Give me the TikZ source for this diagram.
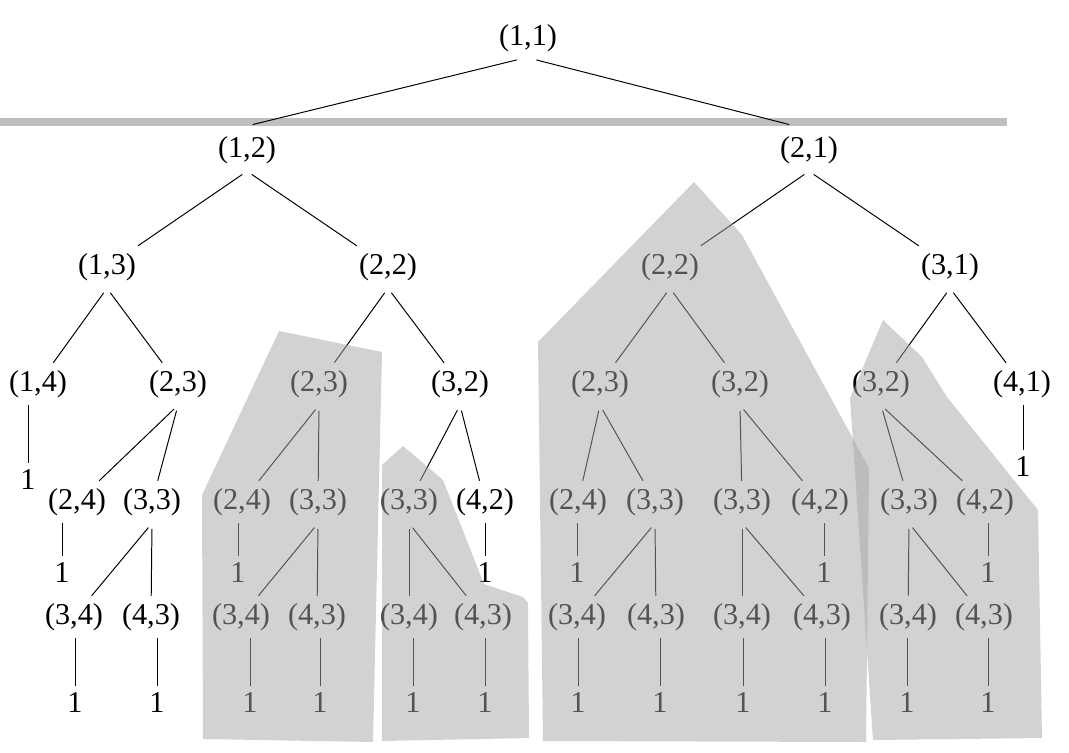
\documentclass[tikz,border=0pt]{standalone}
\usepackage{fontspec}
\setmainfont{Liberation Serif}
\begin{document}
\begin{tikzpicture}[x=0.025cm,y=-0.025cm,line width=0.7pt,
    every node/.style={font=\fontsize{21.5}{24}\selectfont,inner sep=5pt},
    prune/.style={fill=black!35,fill opacity=0.5},
    cutbar/.style={fill=black!25}]
\useasboundingbox (0,0) rectangle (1069,752);

\fill[cutbar] (0,118) rectangle (1007,126);

% the tree
\node (a) at (528,38) {(1,1)};
\node (aL) at (247,150) {(1,2)};
\node (aR) at (809,150) {(2,1)};

\node (aLL) at (107,267) {(1,3)};
\node (aLR) at (388,267) {(2,2)};
\node (aRL) at (670,267) {(2,2)};
\node (aRR) at (950,267) {(3,1)};

\node (aLLL) at (38,384) {(1,4)};
\node (aLLR) at (178,384) {(2,3)};
\node (aLRL) at (319,384) {(2,3)};
\node (aLRR) at (460,384) {(3,2)};
\node (aRLL) at (600,384) {(2,3)};
\node (aRLR) at (740,384) {(3,2)};
\node (aRRL) at (881,384) {(3,2)};
\node (aRRR) at (1022,384) {(4,1)};

\foreach \n/\x/\t in {aLLRL/77/{(2,4)},aLLRR/152/{(3,3)},aLRLL/242/{(2,4)},aLRLR/318/{(3,3)},
    aLRRL/409/{(3,3)},aLRRR/485/{(4,2)},aRLLL/578/{(2,4)},aRLLR/655/{(3,3)},
    aRLRL/742/{(3,3)},aRLRR/820/{(4,2)},aRRLL/909/{(3,3)},aRRLR/985/{(4,2)}}
{
    \node (\n) at (\x,502) {\t};
}
\foreach \n/\x/\t in {aLLRRL/74/{(3,4)},aLLRRR/151/{(4,3)},aLRLRL/241/{(3,4)},aLRLRR/317/{(4,3)},
    aLRRLL/409/{(3,4)},aLRRLR/483/{(4,3)},aRLLRL/577/{(3,4)},aRLLRR/656/{(4,3)},
    aRLRLL/742/{(3,4)},aRLRLR/822/{(4,3)},aRRLLL/908/{(3,4)},aRRLLR/984/{(4,3)}}
{
    \node (\n) at (\x,617) {\t};
}

\draw[shorten <=2pt] ([xshift=-6pt]a.south) -- ([xshift=4pt,yshift=3pt]aL.north);
\draw[shorten <=2pt] ([xshift=4pt]a.south) -- ([xshift=-14pt,yshift=3pt]aR.north);
\foreach \p/\c in {aL/aLL,aL/aLR,aR/aRL,aR/aRR,
    aLL/aLLL,aLL/aLLR,aLR/aLRL,aLR/aLRR,aRL/aRLL,aRL/aRLR,aRR/aRRL,aRR/aRRR,
    aLLR/aLLRL,aLLR/aLLRR,aLRL/aLRLL,aLRL/aLRLR,aLRR/aLRRL,aLRR/aLRRR,
    aRLL/aRLLL,aRLL/aRLLR,aRLR/aRLRL,aRLR/aRLRR,aRRL/aRRLL,aRRL/aRRLR,
    aLLRR/aLLRRL,aLLRR/aLLRRR,aLRLR/aLRLRL,aLRLR/aLRLRR,aLRRL/aLRRLL,aLRRL/aLRRLR,
    aRLLR/aRLLRL,aRLLR/aRLLRR,aRLRL/aRLRLL,aRLRL/aRLRLR,aRRLL/aRRLLL,aRRLL/aRRLLR}
{
    \draw[shorten <=4pt] (\p.south) -- (\c);
}

% leaves
\foreach \p/\x/\y in {aLLL/28/480,aRRR/1023/467,
    aLLRL/62/573,aLRLL/238/573,aLRRR/485/573,aRLLL/577/573,aRLRR/824/573,aRRLR/988/573,
    aLLRRL/75/703,aLLRRR/157/703,aLRLRL/250/703,aLRLRR/320/703,aLRRLL/413/703,aLRRLR/485/703,
    aRLLRL/578/703,aRLLRR/660/703,aRLRLL/743/703,aRLRLR/825/703,aRRLLL/907/703,aRRLLR/988/703}
{
    \node (\p1) at (\x,\y) {1};
    \draw (\p.south -| \p1) -- (\p1);
}

% pruned parts
\fill[prune] (202,495) -- (279,331) -- (382,352) -- (373,742) -- (203,739) -- cycle;
\fill[prune] (382,465) -- (403,446) -- (443,480) -- (484,584) -- (523,597) -- (528,603)
    -- (529,738) -- (382,741) -- cycle;
\fill[prune] (538,342) -- (694,182) -- (742,235) -- (869,468) -- (866,742) -- (543,741) -- cycle;
\fill[prune] (850,398) -- (883,320) -- (922,357) -- (947,397) -- (1038,510) -- (1042,738)
    -- (873,740) -- cycle;
\end{tikzpicture}
\end{document}
